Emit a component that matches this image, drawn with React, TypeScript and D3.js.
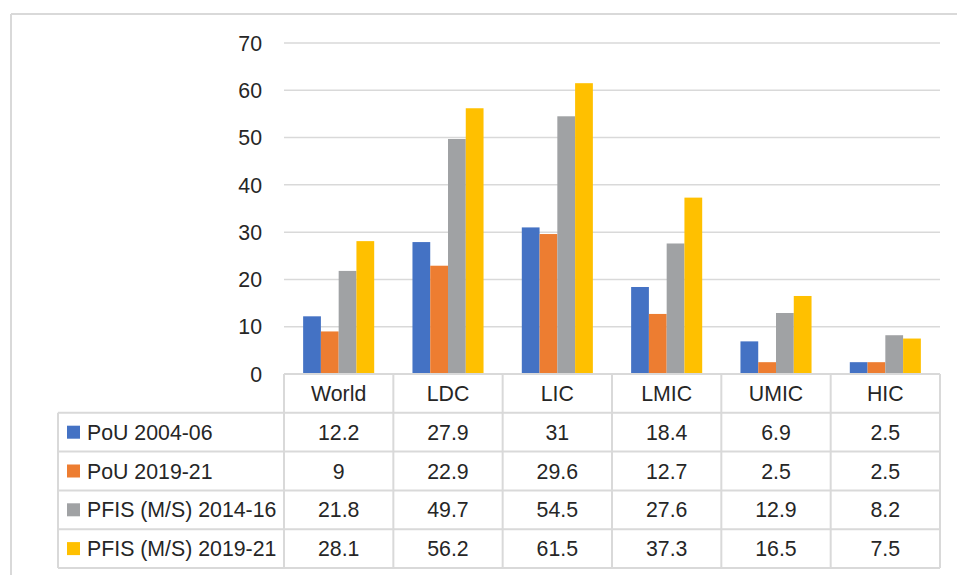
import React from "react";
import * as d3 from "d3";

const categories = ["World", "LDC", "LIC", "LMIC", "UMIC", "HIC"];
const seriesNames = ["PoU 2004-06", "PoU 2019-21", "PFIS (M/S) 2014-16", "PFIS (M/S) 2019-21"];
const pou0406 = [12.2, 27.9, 31, 18.4, 6.9, 2.5];
const pou1921 = [9, 22.9, 29.6, 12.7, 2.5, 2.5];
const pfis1416 = [21.8, 49.7, 54.5, 27.6, 12.9, 8.2];
const pfis1921 = [28.1, 56.2, 61.5, 37.3, 16.5, 7.5];
const yTicks = [0, 10, 20, 30, 40, 50, 60, 70];
const colors = ["#4472C4", "#ED7D31", "#A0A2A4", "#FFC000"];

const W = 957;
const H = 575;
const plotLeft = 284;
const plotRight = 940;
const plotTop = 43;
const plotBottom = 374;
const tableLeft = 58;
const rowH = 38.8;
const gridColor = "#d9d9d9";
const textColor = "#262626";
const font = "'Liberation Sans', Arial, sans-serif";
const fs = 21.3;

export default function App() {
  const series = [pou0406, pou1921, pfis1416, pfis1921];
  const x = d3.scaleBand<string>().domain(categories).range([plotLeft, plotRight]).paddingInner(0.35).paddingOuter(0.175);
  const step = (plotRight - plotLeft) / categories.length;
  const xs = d3.scaleBand<number>().domain(d3.range(series.length)).range([0, x.bandwidth()]);
  const y = d3.scaleLinear().domain([0, 70]).range([plotBottom, plotTop]);
  const tableBottom = plotBottom + rowH * (series.length + 1);

  return (
    <div style={{ position: "absolute", left: 0, top: 0 }}>
      <svg width={W} height={H} style={{ display: "block", background: "#fff" }}>
        {/* outer border */}
        <line x1={11} y1={14} x2={W} y2={14} stroke={gridColor} strokeWidth={2} />
        <line x1={11} y1={14} x2={11} y2={H} stroke={gridColor} strokeWidth={2} />
        {/* gridlines */}
        {yTicks.map((t) => (
          <g key={t}>
            {t > 0 && (
              <line x1={plotLeft} x2={plotRight} y1={y(t)} y2={y(t)} stroke={gridColor} strokeWidth={1.5} />
            )}
            <text x={262} y={y(t)} dy="0.36em" textAnchor="end" fontFamily={font} fontSize={fs} fill={textColor}>
              {t}
            </text>
          </g>
        ))}
        {/* bars */}
        {categories.map((c, i) => (
          <g key={c} transform={`translate(${x(c)},0)`}>
            {series.map((s, k) => (
              <rect key={k} x={xs(k)} y={y(s[i])} width={xs.bandwidth()} height={y(0) - y(s[i])} fill={colors[k]} />
            ))}
          </g>
        ))}
        {/* table */}
        <g stroke={gridColor} strokeWidth={2} fill="none">
          <line x1={plotLeft} x2={plotRight} y1={plotBottom} y2={plotBottom} />
          {series.map((_, k) => (
            <line key={k} x1={tableLeft} x2={plotRight} y1={plotBottom + rowH * (k + 1)} y2={plotBottom + rowH * (k + 1)} />
          ))}
          <line x1={tableLeft} x2={plotRight} y1={tableBottom} y2={tableBottom} />
          <line x1={tableLeft} x2={tableLeft} y1={plotBottom + rowH} y2={tableBottom} />
          {d3.range(categories.length + 1).map((j) => (
            <line key={j} x1={plotLeft + step * j} x2={plotLeft + step * j} y1={plotBottom} y2={tableBottom} />
          ))}
        </g>
        {categories.map((c, i) => (
          <text key={c} x={plotLeft + step * (i + 0.5)} y={plotBottom + rowH * 0.5} dy="0.36em" textAnchor="middle" fontFamily={font} fontSize={fs} fill={textColor}>
            {c}
          </text>
        ))}
        {series.map((s, k) => {
          const cy = plotBottom + rowH * (k + 1.5);
          return (
            <g key={k}>
              <rect x={67} y={cy - 6.5} width={13} height={13} fill={colors[k]} />
              <text x={87} y={cy} dy="0.36em" fontFamily={font} fontSize={fs} fill={textColor}>
                {seriesNames[k]}
              </text>
              {s.map((v, i) => (
                <text key={i} x={plotLeft + step * (i + 0.5)} y={cy} dy="0.36em" textAnchor="middle" fontFamily={font} fontSize={fs} fill={textColor}>
                  {String(v)}
                </text>
              ))}
            </g>
          );
        })}
      </svg>
    </div>
  );
}
